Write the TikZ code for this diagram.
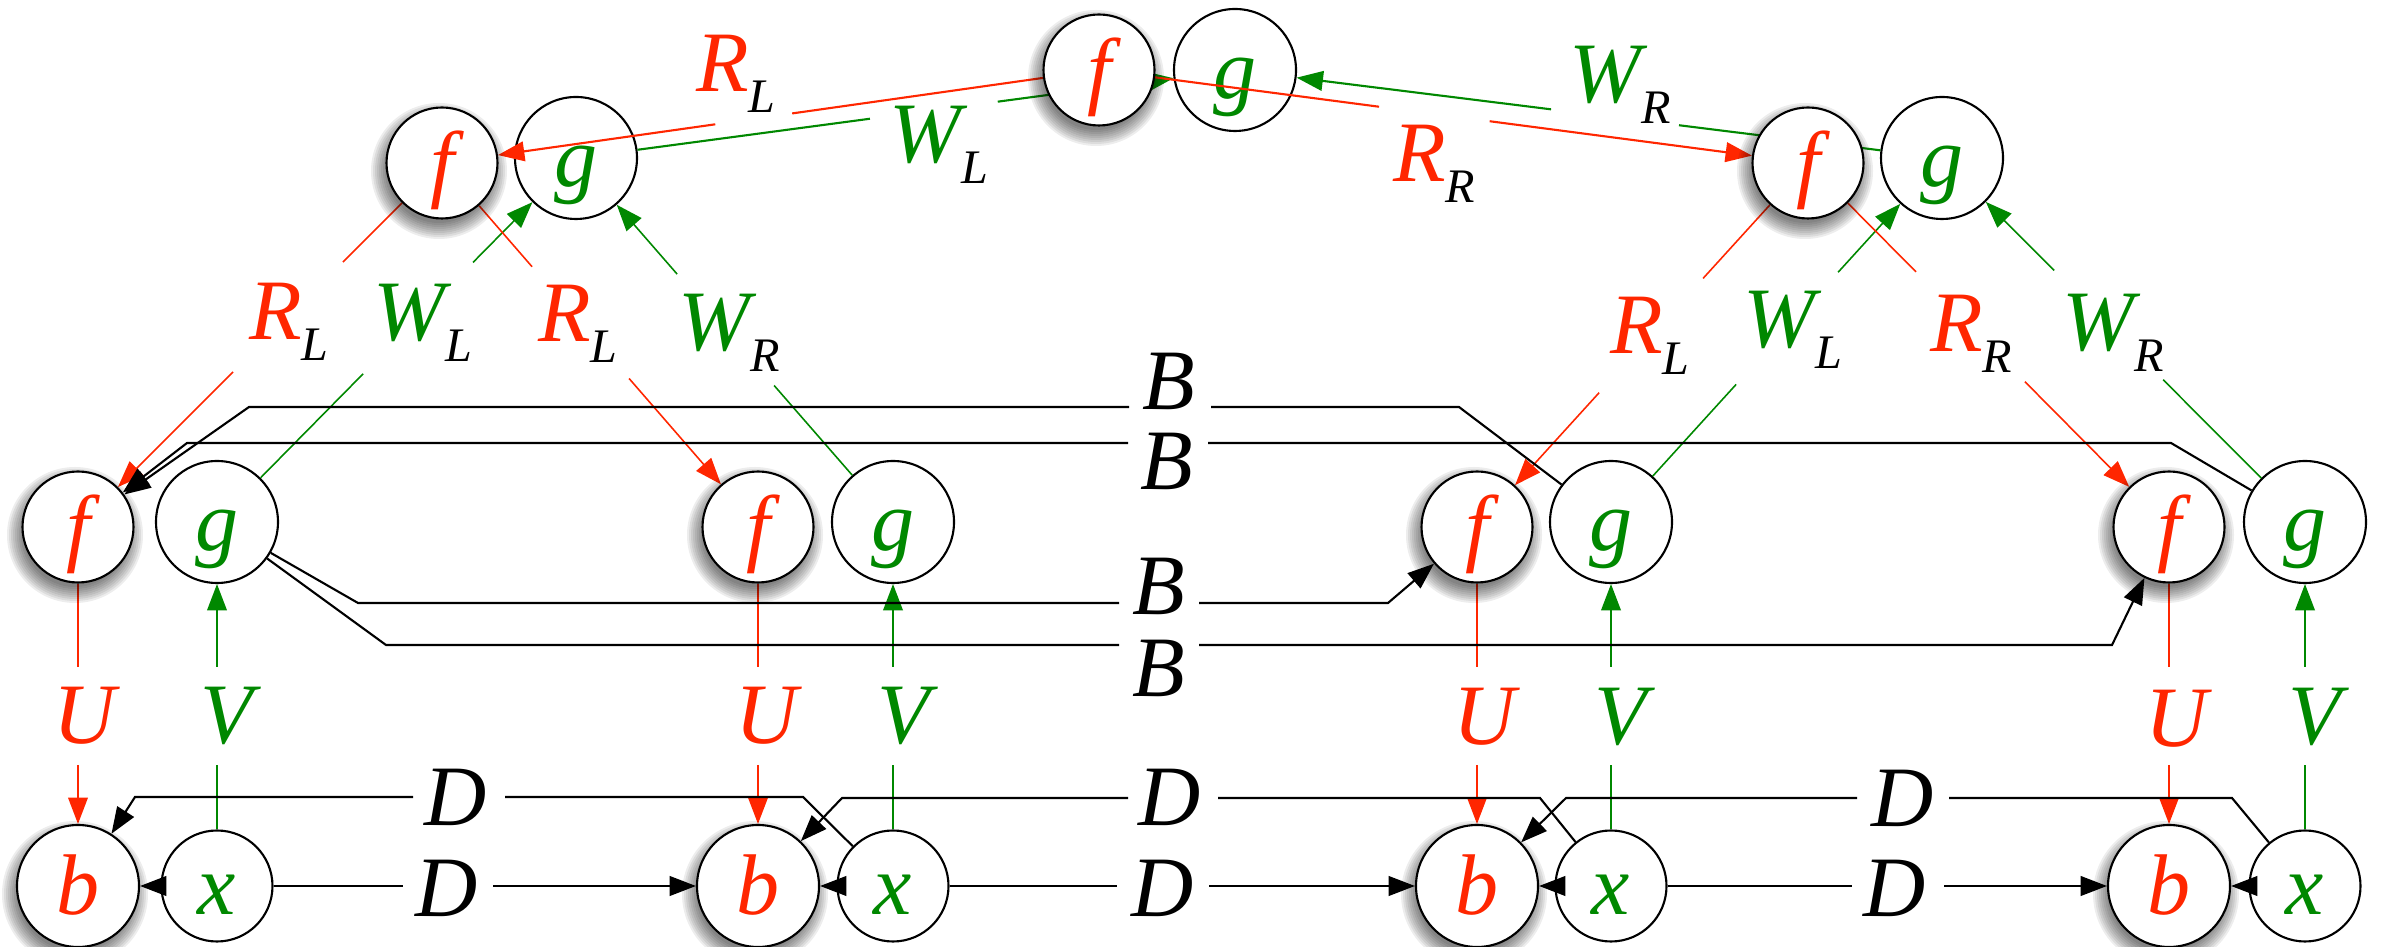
\documentclass[tikz,border=0pt]{standalone}
\usepackage{fontspec}
\setmainfont{Liberation Serif}
\usetikzlibrary{arrows.meta,calc}
\definecolor{lred}{RGB}{255,38,0}
\definecolor{lgreen}{RGB}{0,136,0}
\pgfdeclarelayer{bg}
\pgfdeclarelayer{edges}
\pgfsetlayers{bg,edges,main}
\newcommand{\mylab}[3]{{\color{#1}#2}\raisebox{-6pt}{\fontsize{13.7}{16}\selectfont #3}}
\newcommand{\gapedge}[6]{%
  \coordinate (#6a) at ($(#2)!#4!(#3)$);
  \coordinate (#6b) at ($(#2)!#5!(#3)$);
  \draw[#1] (#2) -- (#6a);
  \draw[#1,arr] (#6b) -- (#3);
}
\newcommand{\softshadow}[3]{%
  \foreach \k in {0,...,8}{\fill[black,opacity=0.07] ({#1-3},{#2+8}) circle[radius={(#3-4+2*\k)*0.1mm}];}%
}
\begin{document}
\begin{tikzpicture}[x=0.1mm,y=-0.1mm,
  big/.style={font=\fontsize{24.5}{28}\selectfont\itshape},
  circ/.style={circle,draw=black,line width=0.6pt,fill=white,inner sep=0pt,text height=22pt,text depth=5.6pt,big},
  fn/.style={circ,minimum size=11.1mm,text=lred},
  gn/.style={circ,minimum size=12.2mm,text=lgreen},
  bn/.style={circ,minimum size=12.2mm,text=lred},
  xn/.style={circ,minimum size=11.1mm,text=lgreen},
  lab/.style={big,inner sep=0pt},
  arr/.style={-{Triangle[length=7.5pt,width=5.6pt]}},
  redthick/.style={draw=lred,line width=0.6pt},
  grnthick/.style={draw=lgreen,line width=0.6pt},
  redln/.style={draw=lred,line width=0.45pt},
  grnln/.style={draw=lgreen,line width=0.45pt},
  blk/.style={draw=black,line width=0.6pt}
]
\useasboundingbox (0,0) rectangle (2382,947);
\begin{pgfonlayer}{bg}
\node[gn] (gtop) at (1235,70) {g};
\node[gn] (gA) at (576,158) {g};
\node[gn] (gB) at (1942,158) {g};
\node[gn] (g1) at (217,522) {g};
\node[gn] (g2) at (893,522) {g};
\node[gn] (g3) at (1611,522) {g};
\node[gn] (g4) at (2305,522) {g};
\node[xn] (x1) at (217,886) {x};
\node[xn] (x2) at (893,886) {x};
\node[xn] (x3) at (1611,886) {x};
\node[xn] (x4) at (2305,886) {x};
\end{pgfonlayer}
% shadows of the f and b circles
\softshadow{1099}{70}{56}
\softshadow{442}{163}{56}
\softshadow{1808}{163}{56}
\foreach \p in {78,758,1477,2169}{\softshadow{\p}{527}{56}\softshadow{\p}{886}{61}}
\node[fn] (ftop) at (1099,70) {f};
\node[fn] (fA) at (442,163) {f};
\node[fn] (fB) at (1808,163) {f};
\node[fn] (f1) at (78,527) {f};
\node[fn] (f2) at (758,527) {f};
\node[fn] (f3) at (1477,527) {f};
\node[fn] (f4) at (2169,527) {f};
\node[bn] (b1) at (78,886) {b};
\node[bn] (b2) at (758,886) {b};
\node[bn] (b3) at (1477,886) {b};
\node[bn] (b4) at (2169,886) {b};
% labels
\node[lab] (RLt) at (736,74) {\mylab{lred}{R}{L}};
\node[lab] (WLt) at (939,145) {\mylab{lgreen}{W}{L}};
\node[lab] (RRt) at (1434,164) {\mylab{lred}{R}{R}};
\node[lab] (WRt) at (1620,85) {\mylab{lgreen}{W}{R}};
\node[lab] (RL1) at (289,322) {\mylab{lred}{R}{L}};
\node[lab] (WL1) at (423,323) {\mylab{lgreen}{W}{L}};
\node[lab] (RL2) at (578,324) {\mylab{lred}{R}{L}};
\node[lab] (WR1) at (729,333) {\mylab{lgreen}{W}{R}};
\node[lab] (RL3) at (1650,336) {\mylab{lred}{R}{L}};
\node[lab] (WL3) at (1793,330) {\mylab{lgreen}{W}{L}};
\node[lab] (RR3) at (1971,334) {\mylab{lred}{R}{R}};
\node[lab] (WR3) at (2113,333) {\mylab{lgreen}{W}{R}};
\node[lab,text=lred] (U1) at (85,716) {U};
\node[lab,text=lgreen] (V1) at (227,716) {V};
\node[lab,text=lred] (U2) at (767,716) {U};
\node[lab,text=lgreen] (V2) at (904,716) {V};
\node[lab,text=lred] (U3) at (1485,717) {U};
\node[lab,text=lgreen] (V3) at (1621,717) {V};
\node[lab,text=lred] (U4) at (2177,719) {U};
\node[lab,text=lgreen] (V4) at (2315,717) {V};
\node[lab] (Ba) at (1169,381) {B};
\node[lab] (Bb) at (1167,461) {B};
\node[lab] (Bc) at (1159,586) {B};
\node[lab] (Bd) at (1159,668) {B};
\node[lab] (Da) at (456,797) {D};
\node[lab] (Db) at (1170,797) {D};
\node[lab] (Dc) at (1903,798) {D};
\node[lab] (De) at (447,888) {D};
\node[lab] (Df) at (1163,888) {D};
\node[lab] (Dg) at (1895,888) {D};
\begin{pgfonlayer}{edges}
% top level
\gapedge{redthick}{ftop}{fA}{0.467}{0.584}{eRLt}
\gapedge{grnthick}{gA}{gtop}{0.446}{0.640}{eWLt}
\gapedge{redthick}{ftop}{fB}{0.395}{0.551}{eRRt}
\gapedge{grnthick}{gB}{gtop}{0.372}{0.553}{eWRt}
% second level
\gapedge{redln}{fA}{f1}{0.272}{0.574}{eRL1}
\gapedge{grnln}{g1}{gA}{0.407}{0.713}{eWL1}
\gapedge{redln}{fA}{f2}{0.285}{0.592}{eRL2}
\gapedge{grnln}{g2}{gA}{0.375}{0.681}{eWR1}
\gapedge{redln}{fB}{f3}{0.317}{0.631}{eRL3}
\gapedge{grnln}{g3}{gB}{0.378}{0.686}{eWL3}
\gapedge{redln}{fB}{f4}{0.299}{0.601}{eRR3}
\gapedge{grnln}{g4}{gB}{0.391}{0.691}{eWR3}
% U and V
\foreach \i/\fx/\gx in {1/78/217,2/758/893,3/1477/1611,4/2169/2305}{
  \coordinate (ua\i) at (\fx,667);
  \coordinate (ub\i) at (\fx,765);
  \coordinate (va\i) at (\gx,765);
  \coordinate (vb\i) at (\gx,667);
  \draw[redln] (f\i) -- (ua\i);
  \draw[redln,arr] (ub\i) -- (b\i);
  \draw[grnln] (x\i) -- (va\i);
  \draw[grnln,arr] (vb\i) -- (g\i);
  \draw[blk,arr] (x\i) -- (b\i);
}
% B connectors
\coordinate (Ba1) at (1211,407); \coordinate (Ba2) at (1129,407);
\draw[blk] (g3) -- (1459,407) -- (Ba1);
\draw[blk,arr] (Ba2) -- (249,407) -- (f1);
\coordinate (Bb1) at (1208,443); \coordinate (Bb2) at (1128,443);
\draw[blk] (g4) -- (2171,443) -- (Bb1);
\draw[blk,arr] (Bb2) -- (187,443) -- (f1);
\coordinate (Bc1) at (1119,603); \coordinate (Bc2) at (1199,603);
\draw[blk] (g1) -- (358,603) -- (Bc1);
\draw[blk,arr] (Bc2) -- (1388,603) -- (f3);
\coordinate (Bd1) at (1119,645); \coordinate (Bd2) at (1199,645);
\draw[blk] (g1) -- (386,645) -- (Bd1);
\draw[blk,arr] (Bd2) -- (2112,645) -- (f4);
% D connectors, upper
\coordinate (Da1) at (505,797); \coordinate (Da2) at (413,797);
\draw[blk] (x2) -- (803,797) -- (Da1);
\draw[blk,arr] (Da2) -- (135,797) -- (b1);
\coordinate (Db1) at (1218,798); \coordinate (Db2) at (1128,798);
\draw[blk] (x3) -- (1540,798) -- (Db1);
\draw[blk,arr] (Db2) -- (842,798) -- (b2);
\coordinate (Dc1) at (1949,798); \coordinate (Dc2) at (1857,798);
\draw[blk] (x4) -- (2232,798) -- (Dc1);
\draw[blk,arr] (Dc2) -- (1566,798) -- (b3);
% D connectors, lower
\coordinate (De1) at (403,886); \coordinate (De2) at (493,886);
\draw[blk] (x1) -- (De1);
\draw[blk,arr] (De2) -- (b2);
\coordinate (Df1) at (1117,886); \coordinate (Df2) at (1209,886);
\draw[blk] (x2) -- (Df1);
\draw[blk,arr] (Df2) -- (b3);
\coordinate (Dg1) at (1852,886); \coordinate (Dg2) at (1944,886);
\draw[blk] (x3) -- (Dg1);
\draw[blk,arr] (Dg2) -- (b4);
\end{pgfonlayer}
\end{tikzpicture}
\end{document}
